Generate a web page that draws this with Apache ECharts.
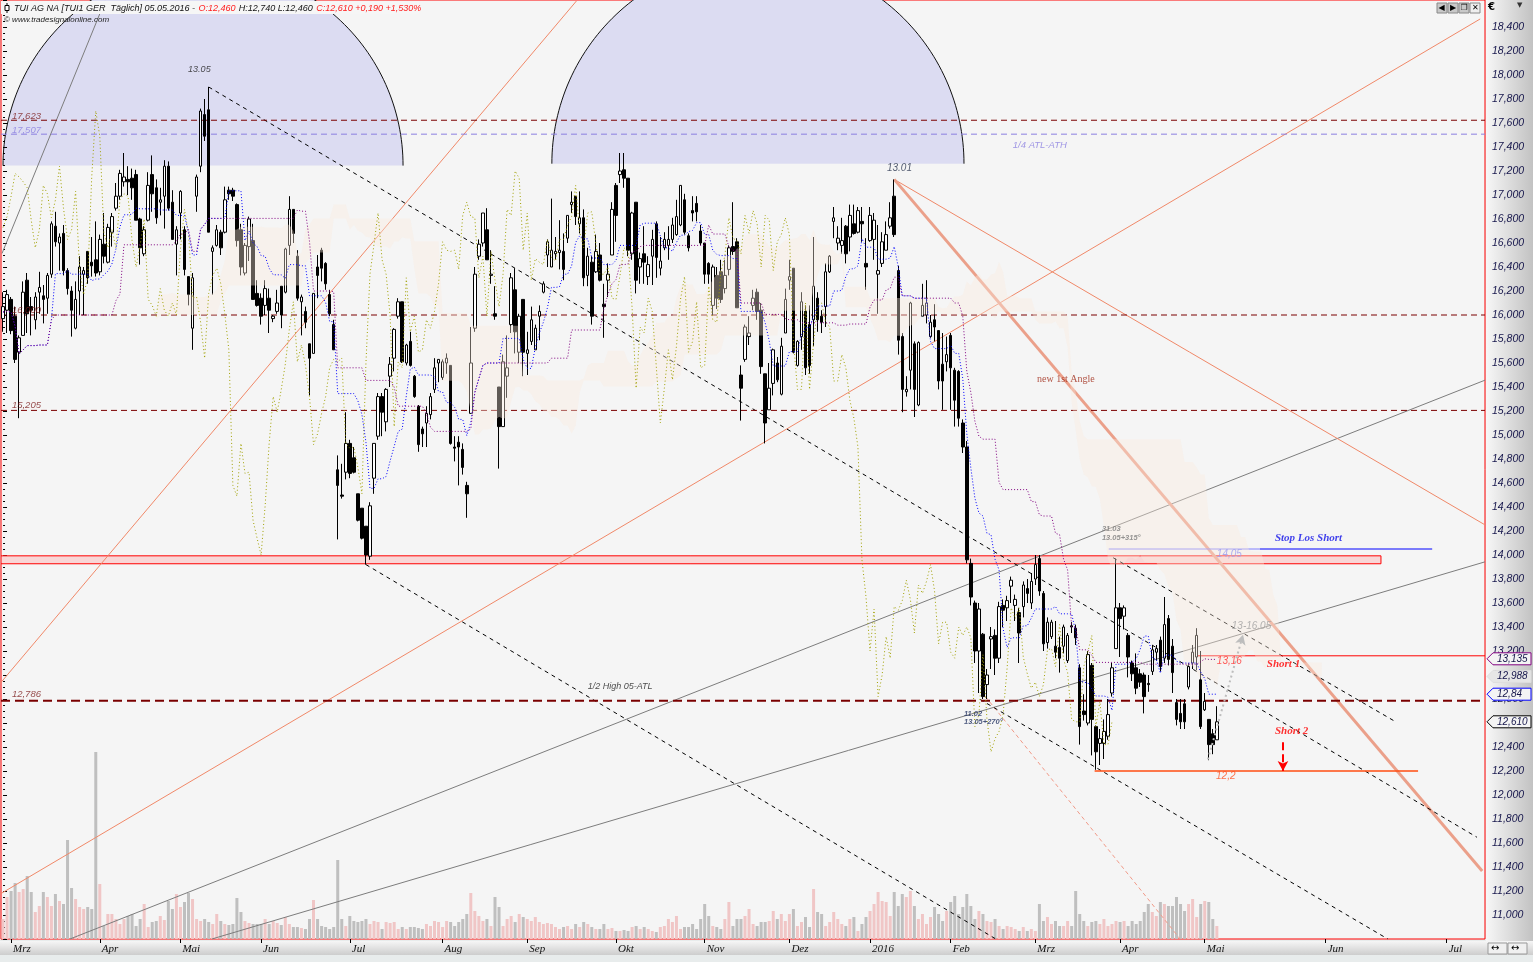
<!DOCTYPE html>
<html><head><meta charset="utf-8">
<script src="https://cdn.jsdelivr.net/npm/echarts@6/dist/echarts.min.js"></script>
<style>
html,body{margin:0;padding:0;background:#e8ecec;}
#c{width:1533px;height:962px;background:
 linear-gradient(to right,#f7f7f7,#c2c2c2) 1486px 0/47px 941px no-repeat,
 linear-gradient(to bottom,#f6f6f6,#cdcdcd) 0 941px/1533px 14px no-repeat,
 #e8ecec;}
</style></head><body><div id="c"></div>
<script>
// ---------- categories ----------
const holidays = ['2015-04-03','2015-04-06','2015-05-01','2015-12-24','2015-12-25','2015-12-31','2016-01-01','2016-03-25','2016-03-28'];
const firstDay = '2015-02-26', lastBarDay = '2016-05-05', lastAxisDay = '2016-07-10';
const monthNames = ['Jan','Feb','Mrz','Apr','Mai','Jun','Jul','Aug','Sep','Okt','Nov','Dez'];

// ---------- OHLC (EUR) ----------
const opens = [
15.97,16.04,16.13,15.99,15.69,15.83,16.29,16.07,15.96,16.19,
16.16,16.14,16.34,16.74,16.60,16.68,16.37,16.20,15.89,16.20,
16.34,16.53,16.44,16.46,16.36,16.59,16.44,16.69,16.89,16.99,
17.11,17.13,17.14,17.17,16.80,16.51,16.79,17.17,17.06,16.94,
16.99,17.24,16.94,16.59,16.85,16.71,16.32,15.89,16.99,17.24,
17.67,17.71,16.53,16.58,16.69,16.69,17.04,17.04,16.92,16.71,
16.35,16.57,16.62,16.18,16.14,16.08,16.14,15.97,16.03,16.24,
16.19,16.58,16.88,16.49,16.11,16.03,15.76,15.68,16.40,16.54,
16.43,16.17,15.92,14.71,14.50,14.69,14.93,14.81,14.51,14.39,
14.24,13.99,14.64,14.99,15.32,15.11,15.49,15.64,15.99,16.11,
15.60,15.78,15.49,15.24,15.05,15.10,15.17,15.38,15.60,15.48,
15.60,15.58,14.90,14.94,14.88,14.58,15.18,15.89,16.49,16.60,
16.71,16.33,16.01,15.40,15.07,15.49,15.92,16.21,15.69,16.13,
15.68,15.78,15.71,15.99,16.19,16.50,16.40,16.51,16.52,16.53,
16.64,16.92,16.99,16.76,16.81,16.33,16.44,16.36,16.50,16.09,
16.29,16.50,17.08,17.17,17.21,17.14,16.51,16.94,16.40,16.51,
16.32,16.49,16.76,16.39,16.56,16.58,16.63,16.67,16.75,16.96,
16.66,16.87,16.93,16.70,16.60,16.43,16.08,16.33,16.36,16.22,
16.38,16.57,16.61,15.50,15.63,15.82,16.08,16.19,16.04,15.51,
15.21,15.43,15.60,15.34,15.85,16.29,16.39,15.58,15.82,16.03,
15.92,15.96,16.14,15.99,16.07,16.36,16.78,16.60,16.58,16.74,
16.65,16.76,16.69,16.78,16.43,16.62,16.63,16.34,16.43,16.54,
16.74,16.99,16.37,15.82,15.36,15.54,15.76,15.25,15.99,16.00,
15.82,15.96,15.87,15.59,15.61,15.83,15.54,15.53,15.10,14.90,
13.93,13.60,13.20,13.34,12.92,13.30,13.33,13.14,13.58,13.56,
13.74,13.58,13.52,13.57,13.72,13.60,13.80,13.97,13.68,13.27,
13.32,13.24,13.23,13.24,13.12,13.41,13.39,13.06,12.70,12.60,
13.08,12.57,12.43,12.43,12.49,12.85,13.22,13.56,13.49,13.33,
13.10,13.06,13.01,13.00,12.93,13.03,13.19,13.29,13.14,13.47,
13.24,12.77,12.68,12.76,12.90,13.10,13.15,12.96,12.71,12.63,
12.51,12.46];
const highs = [
16.19,16.21,16.15,16.07,15.83,16.28,16.35,16.15,16.19,16.36,
16.25,16.35,16.78,16.86,16.68,16.75,16.39,16.24,16.28,16.49,
16.40,16.53,16.65,16.78,16.67,16.85,16.76,16.85,17.10,17.21,
17.35,17.24,17.22,17.21,16.81,16.74,17.19,17.33,17.13,17.06,
17.29,17.28,17.04,16.74,17.04,16.74,16.32,16.35,17.17,17.72,
17.80,17.90,16.58,16.75,16.71,17.07,17.07,17.06,16.93,16.76,
16.60,16.82,16.76,16.29,16.18,16.29,16.22,16.00,16.21,16.24,
16.56,16.99,16.88,16.54,16.17,16.07,15.76,16.18,16.50,16.56,
16.44,16.21,15.96,14.83,14.76,15.19,14.96,14.90,14.51,14.39,
14.24,14.44,14.93,15.35,15.35,15.39,15.65,15.89,16.14,16.11,
15.76,15.86,15.50,15.25,15.07,15.24,15.35,15.64,15.63,15.63,
15.68,15.58,14.99,14.99,14.93,14.61,15.90,16.40,16.63,16.85,
16.89,16.54,16.24,15.40,15.67,15.83,16.35,16.39,16.01,16.13,
15.86,16.07,15.92,16.08,16.28,16.63,16.97,16.65,16.79,16.68,
16.83,17.03,16.99,17.03,16.88,16.56,16.49,16.67,16.60,16.26,
16.43,16.94,17.10,17.35,17.35,17.14,16.86,16.94,16.52,16.74,
16.49,16.71,16.78,16.65,16.69,16.74,16.81,16.96,17.08,17.01,
16.68,16.99,16.99,16.75,16.60,16.44,16.42,16.40,16.46,16.46,
16.58,16.94,16.64,15.58,15.92,15.99,16.21,16.22,16.10,15.51,
15.60,15.72,15.65,15.81,16.22,16.46,16.39,15.79,16.19,16.08,
16.08,16.65,16.19,16.04,16.43,16.50,16.90,16.74,16.81,16.75,
16.92,16.92,16.90,16.90,16.64,16.90,16.85,16.75,16.69,16.78,
16.94,17.13,16.41,15.85,15.49,16.11,15.78,15.78,16.26,16.29,
16.00,16.09,15.87,15.85,15.82,15.85,15.56,15.54,15.13,14.95,
13.97,13.62,13.60,13.35,13.05,13.40,13.38,13.61,13.63,13.66,
13.82,13.67,13.56,13.78,13.80,13.85,14.00,14.00,13.70,13.48,
13.46,13.45,13.32,13.42,13.35,13.44,13.42,13.09,12.84,13.20,
13.10,12.58,12.55,12.63,12.80,13.10,13.97,13.60,13.58,13.35,
13.12,13.18,13.05,13.02,13.00,13.25,13.25,13.32,13.65,13.50,
13.30,12.80,12.80,12.80,13.10,13.25,13.39,13.20,12.85,12.63,
12.55,12.74];
const lows = [
15.86,15.85,15.84,15.60,15.14,15.83,15.85,15.83,15.88,16.01,
15.93,16.01,16.31,16.57,16.37,16.33,16.17,15.82,15.88,16.00,
16.00,16.26,16.32,16.32,16.33,16.43,16.43,16.57,16.87,16.96,
17.07,17.00,16.96,16.79,16.42,16.49,16.78,16.86,16.76,16.83,
16.72,16.87,16.63,16.33,16.63,16.33,16.08,15.71,16.86,17.19,
17.45,16.69,16.17,16.57,16.50,16.68,16.96,16.95,16.57,16.33,
16.33,16.45,16.13,16.07,15.92,16.00,15.85,15.94,16.01,15.89,
16.18,16.50,16.60,16.12,15.83,15.89,15.33,15.68,16.14,16.28,
16.21,15.99,15.71,14.13,14.47,14.63,14.64,14.68,14.28,14.13,
13.92,13.96,14.51,14.96,14.99,15.03,15.40,15.53,15.97,15.60,
15.58,15.57,15.31,14.86,14.90,14.90,15.13,15.35,15.44,15.46,
15.51,14.92,14.78,14.58,14.67,14.31,15.18,15.86,16.46,16.57,
16.46,16.26,15.96,14.72,15.07,15.31,15.85,15.68,15.60,15.49,
15.50,15.75,15.71,15.79,16.18,16.40,16.40,16.46,16.38,16.29,
16.60,16.85,16.75,16.68,16.24,16.24,15.92,16.35,16.28,15.81,
16.15,16.50,16.61,17.10,17.06,16.49,16.46,16.18,16.26,16.26,
16.25,16.25,16.31,16.33,16.54,16.46,16.60,16.66,16.74,16.67,
16.53,16.78,16.78,16.58,16.26,16.26,16.00,16.05,16.10,16.18,
16.33,16.50,16.06,15.12,15.61,15.75,16.04,15.96,15.51,14.93,
15.21,15.33,15.44,15.33,15.85,16.21,15.68,15.57,15.71,15.50,
15.51,15.74,15.86,15.85,15.90,16.35,16.64,16.54,16.51,16.43,
16.53,16.67,16.68,16.61,16.21,16.61,16.46,16.01,16.40,16.54,
16.72,16.65,15.67,15.19,15.32,15.38,15.15,15.24,15.99,15.93,
15.81,15.78,15.38,15.21,15.53,15.21,15.07,15.07,14.85,13.93,
13.58,13.10,12.85,12.80,12.80,13.05,13.00,13.10,13.40,13.45,
13.60,13.45,13.10,13.48,13.60,13.55,13.75,13.66,13.20,13.22,
13.30,13.14,13.02,13.18,13.10,13.35,13.25,12.42,12.62,12.58,
12.33,12.21,12.25,12.30,12.46,12.82,13.22,13.15,13.38,12.98,
12.95,12.84,12.90,12.68,12.86,13.00,13.12,13.03,13.10,13.08,
12.85,12.58,12.55,12.55,12.88,13.05,13.04,12.55,12.70,12.29,
12.34,12.46];
const closes = [
16.07,16.17,15.87,15.63,15.81,16.19,16.01,16.04,16.15,16.23,
16.13,16.33,16.76,16.61,16.65,16.37,16.22,16.04,16.13,16.40,
16.37,16.31,16.41,16.35,16.63,16.49,16.73,16.82,16.99,17.18,
17.15,17.11,17.06,16.79,16.56,16.71,17.08,17.01,16.81,16.96,
17.24,16.89,16.63,16.71,17.03,16.38,16.17,16.31,17.15,17.70,
17.49,16.69,16.56,16.71,16.56,16.96,17.01,16.99,16.62,16.40,
16.58,16.80,16.13,16.08,15.99,16.22,16.04,15.99,16.10,16.00,
16.55,16.88,16.68,16.14,16.15,15.94,15.64,16.18,16.33,16.39,
16.26,16.01,15.71,14.58,14.49,14.93,14.68,14.69,14.29,14.14,
14.00,14.41,14.93,15.32,15.19,15.38,15.59,15.88,16.11,15.61,
15.75,15.58,15.32,14.92,15.01,15.18,15.32,15.56,15.63,15.61,
15.64,14.93,14.89,14.90,14.73,14.51,15.60,16.34,16.59,16.85,
16.46,16.34,15.99,15.07,15.61,15.56,16.31,15.86,15.99,15.69,
15.71,15.96,15.89,16.03,16.26,16.61,16.54,16.53,16.54,16.38,
16.83,16.94,16.82,16.81,16.31,16.49,15.99,16.53,16.29,16.07,
16.34,16.88,16.83,17.20,17.14,16.54,16.85,16.29,16.47,16.44,
16.42,16.63,16.48,16.45,16.63,16.63,16.75,16.82,17.08,16.69,
16.56,16.85,16.86,16.60,16.34,16.34,16.40,16.14,16.13,16.33,
16.56,16.53,16.06,15.39,15.90,15.85,16.14,16.03,15.57,15.10,
15.39,15.71,15.46,15.74,16.13,16.32,15.69,15.78,16.11,15.56,
15.58,16.24,15.96,15.94,16.36,16.49,16.81,16.64,16.62,16.51,
16.83,16.68,16.87,16.76,16.40,16.83,16.79,16.37,16.61,16.67,
16.81,16.67,15.79,15.38,15.38,16.10,15.38,15.77,16.08,16.10,
15.94,15.90,15.45,15.45,15.67,15.56,15.29,15.14,14.90,13.96,
13.65,13.20,13.55,12.82,13.00,13.32,13.14,13.57,13.54,13.62,
13.79,13.63,13.35,13.75,13.68,13.78,13.92,13.70,13.26,13.44,
13.44,13.19,13.14,13.40,13.33,13.40,13.31,12.57,12.67,13.17,
12.63,12.36,12.47,12.53,12.67,13.06,13.56,13.47,13.56,13.15,
13.01,12.89,12.94,12.82,12.92,13.21,13.22,13.07,13.42,13.13,
13.02,12.63,12.61,12.61,13.07,13.19,13.33,12.57,12.78,12.42,
12.42,12.61];
// volume (relative units)
const volumes = [
20,42,48,56,47,50,63,47,27,33, 47,42,33,45,38,35,99,51,40,32,
30,32,30,187,55,13,25,25,20,15, 20,23,25,13,20,35,12,17,18,23,
19,38,30,45,32,37,46,40,20,18, 20,17,15,25,18,15,14,15,41,27,
18,16,15,15,15,20,15,18,16,14, 22,15,12,12,11,10,20,39,20,13,
12,10,12,79,20,13,23,18,17,18, 20,15,18,17,10,17,16,17,10,12,
10,12,12,11,10,15,13,18,17,12, 18,17,13,17,20,25,46,28,23,18,
20,13,42,32,13,20,23,17,25,22, 20,18,22,17,15,16,15,12,10,12,
13,10,15,12,17,15,12,10,10,15, 10,11,8,8,9,8,12,13,10,12,
10,8,7,12,13,20,17,23,10,12, 12,15,10,20,35,23,13,12,10,20,
37,13,20,20,23,30,15,13,17,17, 18,28,20,25,18,25,30,13,17,22,
12,50,27,25,13,17,27,20,15,13, 20,22,8,15,22,28,35,47,38,37,
23,47,33,45,42,48,33,20,25,15, 22,32,25,18,28,37,43,25,32,45,
33,20,28,25,18,17,20,13,10,13, 12,10,8,12,8,10,8,35,18,22,
15,18,13,13,18,13,48,25,18,13, 17,18,15,20,13,15,18,17,18,13,
18,15,18,27,35,27,23,37,35,33, 33,42,35,28,35,40,22,35,38,37,
20,13];

// ---------- drawn annotations (bar index, price) ----------
const cycleArcs = [ // centre index, centre price, radius in bars, radius in EUR
  [49.6, 17.245, 49.6, 1.663],
  [187.2, 17.261, 51.1, 1.713]
];
const zoneBox = [[-0.5, 13.993, 341.7, 13.927]];
const trendLines = [ // [i1, p1, i2, p2, style]
  [-0.74, 11.174, 366.3, 18.467, 'salmon'],
  [-0.74, 12.929, 142.2, 18.617, 'salmon'],
  [-0.25, 16.513, 25.3, 18.617, 'gray'],
  [16.6, 10.80, 367.5, 15.457, 'gray'],
  [51.8, 10.80, 367.5, 13.943, 'gray'],
  [221, 17.13, 367.5, 14.251, 'salmon'],
  [221, 17.13, 366.8, 11.366, 'salmonThick'],
  [243.6, 12.821, 291.9, 10.80, 'salmonDash'],
  [51, 17.90, 365.5, 11.648, 'blackDash'],
  [90, 13.92, 246.2, 10.80, 'blackDash'],
  [275.3, 13.977, 345.2, 12.613, 'blackDash'],
  [242.3, 12.796, 343.4, 10.80, 'blackDash']
];
const levelLines = [ // [price, fromIndex, toIndex, style]
  [17.623, -0.5, 367.5, 'darkredDash'],
  [17.507, -0.5, 367.5, 'lavDash'],
  [16.000, -0.5, 367.5, 'darkredDash'],
  [15.205, -0.5, 367.5, 'darkredDash'],
  [12.786, -0.5, 367.5, 'darkredDashThick'],
  [13.16, 295.6, 367.5, 'red'],
  [14.05, 274.2, 311.7, 'blueLight'],
  [14.05, 311.7, 354.4, 'blue'],
  [12.2, 270.7, 350.9, 'orange']
];
const arrows = [ // [i1, p1, i2, p2, style]
  [317.4, 12.44, 317.4, 12.20, 'redArrow'],
  [298.8, 12.297, 307.5, 13.336, 'grayArrow']
];
const notes = [ // [index, price, text, style]
  [45.9, 18.043, '13.05', 'dark'],
  [219.2, 17.220, '13.01', 'slate'],
  [2.2, 17.652, '17,623', 'darkred'],
  [2.2, 17.542, '17,507', 'lav'],
  [2.2, 16.040, '16,000', 'darkred'],
  [2.2, 15.249, '15,205', 'darkred'],
  [2.2, 12.838, '12,786', 'darkred'],
  [250.4, 17.411, '1/4 ATL-ATH', 'lav'],
  [256.4, 15.465, 'new 1st Angle', 'brown'],
  [145.0, 12.904, '1/2 High 05-ATL', 'dark'],
  [272.5, 14.218, '31.03', 'graySmall'],
  [272.5, 14.143, '13.05+315°', 'graySmall'],
  [238.3, 12.679, '11.02', 'navySmall'],
  [238.3, 12.605, '13.05+270°', 'navySmall'],
  [315.4, 14.143, 'Stop Los Short', 'blueBold'],
  [301.0, 14.010, '14,05', 'lightblue'],
  [304.7, 13.403, '13-16.05', 'grayLight'],
  [301.0, 13.112, '13,16', 'red'],
  [313.4, 13.087, 'Short 1', 'redBold'],
  [315.4, 12.530, 'Short 2', 'redBold'],
  [300.8, 12.156, '12,2', 'orange']
];
const priceTags = [ // [price, text, border]
  [13.135, '13,135', '#800080'],
  [12.988, '12,988', '#dddddd'],
  [12.84, '12,84', '#0000ff'],
  [12.610, '12,610', '#000000']
];

// ---------- build categories ----------
const cats = [];
(function(){
  let t = Date.parse(firstDay + 'T00:00:00Z');
  const endBars = Date.parse(lastBarDay + 'T00:00:00Z');
  const endAxis = Date.parse(lastAxisDay + 'T00:00:00Z');
  while (t <= endBars) {
    const d = new Date(t), s = d.toISOString().slice(0,10), wd = d.getUTCDay();
    if (wd !== 0 && wd !== 6 && holidays.indexOf(s) < 0) cats.push(s);
    t += 86400000;
  }
  while (t <= endAxis) { cats.push(new Date(t).toISOString().slice(0,10)); t += 86400000; }
})();
const N = cats.length;
const isMonthStart = i => i > 0 && cats[i].slice(0,7) !== cats[i-1].slice(0,7);

// ---------- Ichimoku lines from the OHLC arrays ----------
function midRange(i, n) {
  let hi = -Infinity, lo = Infinity;
  for (let j = Math.max(0, i - n + 1); j <= i; j++) { hi = Math.max(hi, highs[j]); lo = Math.min(lows[j], lo); }
  return (hi + lo) / 2;
}
const tenkan = [], kijun = [], spanA = new Array(N).fill(null), spanB = new Array(N).fill(null), chikou = new Array(N).fill(null);
for (let i = 0; i < closes.length; i++) {
  tenkan.push(+midRange(i, 9).toFixed(3));
  kijun.push(+midRange(i, 26).toFixed(3));
  if (i + 26 < N) { spanA[i+26] = (tenkan[i] + kijun[i]) / 2; spanB[i+26] = midRange(i, 52); }
  if (i - 26 >= 0) chikou[i-26] = closes[i];
}
const cloudLow = spanA.map((a,i) => a == null ? null : +Math.min(a, spanB[i]).toFixed(3));
const cloudDiff = spanA.map((a,i) => a == null ? null : +Math.abs(a - spanB[i]).toFixed(3));

// ---------- styles ----------
const lineStyles = {
  salmon: {color:'#f08868', width:1},
  salmonThick: {color:'#eba08a', width:3},
  salmonDash: {color:'#f09a88', width:1, type:[4,3]},
  gray: {color:'#7c7c7c', width:1},
  blackDash: {color:'#000000', width:1, type:[4,4]},
  darkredDash: {color:'#7a0000', width:1, type:[6,4]},
  darkredDashThick: {color:'#7a0000', width:2, type:[9,5]},
  lavDash: {color:'#8a7ee0', width:1, type:[6,4]},
  red: {color:'#ff0000', width:1},
  blue: {color:'#0000ff', width:1},
  blueLight: {color:'#8080ff', width:1},
  orange: {color:'#ff4c10', width:1.5},
  redArrow: {color:'#ff0000', width:2},
  grayArrow: {color:'#bdbdbd', width:2, type:[2,3]}
};
const noteStyles = {
  dark: {color:'#222', fontSize:9, fontStyle:'italic', fontFamily:'Liberation Sans'},
  slate: {color:'#2a3650', fontSize:10, fontStyle:'italic', fontFamily:'Liberation Sans'},
  darkred: {color:'#7a1a1a', fontSize:9.5, fontStyle:'italic', fontFamily:'Liberation Sans'},
  lav: {color:'#8a7ee0', fontSize:9.5, fontStyle:'italic', fontFamily:'Liberation Sans'},
  brown: {color:'#a02a18', fontSize:10, fontFamily:'Liberation Serif'},
  graySmall: {color:'#7a7a7a', fontSize:7.5, fontStyle:'italic', fontWeight:'bold', fontFamily:'Liberation Sans'},
  navySmall: {color:'#1e2e5e', fontSize:7.5, fontStyle:'italic', fontWeight:'bold', fontFamily:'Liberation Sans'},
  blueBold: {color:'#1010e8', fontSize:11, fontStyle:'italic', fontWeight:'bold', fontFamily:'Liberation Serif'},
  lightblue: {color:'#9a9af0', fontSize:10, fontStyle:'italic', fontFamily:'Liberation Sans'},
  grayLight: {color:'#a0a0a0', fontSize:10, fontStyle:'italic', fontFamily:'Liberation Sans'},
  red: {color:'#ff3030', fontSize:10, fontStyle:'italic', fontFamily:'Liberation Sans'},
  redBold: {color:'#ff0000', fontSize:11, fontStyle:'italic', fontWeight:'bold', fontFamily:'Liberation Serif'},
  orange: {color:'#ff5020', fontSize:10, fontStyle:'italic', fontFamily:'Liberation Sans'}
};
const fmt3 = v => v.toFixed(3).replace('.', ',');

// ---------- series ----------
const series = [];
series.push({
  type:'custom', name:'arcs', xAxisIndex:1, yAxisIndex:0, clip:true, silent:true, z:0,
  encode:{x:0, y:1},
  data: cycleArcs,
  renderItem: function(params, api){
    const cx = api.value(0), cy = api.value(1), rx = api.value(2), ry = api.value(3);
    const pts = [];
    for (let t = 0; t <= 180; t += 1.5) { const a = t*Math.PI/180; pts.push(api.coord([cx + rx*Math.cos(a), cy + ry*Math.sin(a)])); }
    return {type:'group', children:[
      {type:'polygon', shape:{points:pts}, style:{fill:'#dcdcf2', stroke:null}},
      {type:'polyline', shape:{points:pts}, style:{fill:null, stroke:'#111', lineWidth:1}}
    ]};
  }
});
series.push({
  type:'custom', name:'zone', xAxisIndex:1, yAxisIndex:0, clip:true, silent:true, z:1,
  encode:{x:[0,2], y:[1,3]},
  data: zoneBox,
  renderItem: function(params, api){
    const a = api.coord([api.value(0), api.value(1)]), b = api.coord([api.value(2), api.value(3)]);
    return {type:'rect', shape:{x:a[0], y:a[1], width:b[0]-a[0], height:b[1]-a[1]}, style:{fill:'#f8d6d6', stroke:'#ff0000', lineWidth:1}};
  }
});
series.push({
  type:'bar', name:'Volumen', xAxisIndex:0, yAxisIndex:1, barWidth:3, silent:true, z:1,
  data: volumes.map((v,i) => ({value:v, itemStyle:{color: closes[i] >= opens[i] ? '#f0c6c6' : '#bfbfbf'}}))
});
trendLines.forEach(l => series.push({
  type:'line', xAxisIndex:1, yAxisIndex:0, symbol:'none', silent:true, clip:true, z:2,
  data:[[l[0], l[1]], [l[2], l[3]]], lineStyle: lineStyles[l[4]]
}));
levelLines.forEach(l => series.push({
  type:'line', xAxisIndex:1, yAxisIndex:0, symbol:'none', silent:true, clip:true, z:2,
  data:[[l[1], l[0]], [l[2], l[0]]], lineStyle: lineStyles[l[3]]
}));
series.push({
  type:'candlestick', name:'TUI', xAxisIndex:0, yAxisIndex:0, barWidth:3, z:3,
  data: opens.map((o,i) => [o, closes[i], lows[i], highs[i]]),
  itemStyle:{color:'#ffffff', color0:'#000000', borderColor:'#000000', borderColor0:'#000000', borderWidth:1}
});
series.push({type:'line', name:'cloudLow', xAxisIndex:0, yAxisIndex:0, stack:'kumo', data:cloudLow, symbol:'none', silent:true, lineStyle:{opacity:0}, z:4});
series.push({type:'line', name:'cloud', xAxisIndex:0, yAxisIndex:0, stack:'kumo', data:cloudDiff, symbol:'none', silent:true, lineStyle:{opacity:0}, areaStyle:{color:'rgba(250,234,222,0.55)'}, z:4});
series.push({type:'line', name:'Chikou', xAxisIndex:0, yAxisIndex:0, data:chikou, symbol:'none', silent:true, lineStyle:{color:'#a0a000', width:1, type:[1,2.5]}, z:5});
series.push({type:'line', name:'Tenkan', xAxisIndex:0, yAxisIndex:0, data:tenkan, symbol:'none', silent:true, lineStyle:{color:'#0000ff', width:1, type:[1,2]}, z:5});
series.push({type:'line', name:'Kijun', xAxisIndex:0, yAxisIndex:0, data:kijun, symbol:'none', silent:true, lineStyle:{color:'#800080', width:1, type:[1,2]}, z:5});
series.push({
  type:'line', name:'marks', xAxisIndex:1, yAxisIndex:0, data:[], symbol:'none', silent:true, clip:false, z:6,
  markLine:{
    silent:true, animation:false,
    data: arrows.map(a => [
      {coord:[a[0], a[1]], symbol:'none', lineStyle: lineStyles[a[4]]},
      {coord:[a[2], a[3]], symbol:'arrow', symbolSize:[8,10]}
    ]),
    label:{show:false}
  }
});
// price tags on the right axis, placed at the right edge of the plot at their price
series.push({
  type:'custom', name:'tags', xAxisIndex:1, yAxisIndex:0, clip:false, silent:true, z:20,
  encode:{x:0, y:1},
  data: priceTags.map(t => [N - 0.5, t[0]]),
  renderItem: function(params, api){
    const p = api.coord([api.value(0), api.value(1)]);
    const tag = priceTags[params.dataIndex];
    return {type:'group', x:p[0] + 2, y:p[1], children:[
      {type:'polygon', shape:{points:[[0,0],[6,-6],[44,-6],[44,6],[6,6]]},
       style:{fill: tag[2] === '#dddddd' ? '#e6e6e6' : '#f4f4f4', stroke:tag[2], lineWidth:1}},
      {type:'text', x:10, y:0, style:{text:tag[1], fill:'#14144a', font:'italic 10px "Liberation Sans"', verticalAlign:'middle', align:'left'}}
    ]};
  }
});
series.push({
  type:'scatter', name:'notes', xAxisIndex:1, yAxisIndex:0, symbolSize:0, silent:true, z:7,
  data: notes.map(n => ({value:[n[0], n[1]], label:Object.assign({show:true, position:'right', distance:0, formatter:n[2]}, noteStyles[n[3]])}))
});

const option = {
  animation:false,
  backgroundColor:'transparent',
  grid:{left:1, top:0, width:1484, height:939, show:true, backgroundColor:'#f5f5f5', borderColor:'#ff0000', borderWidth:1},
  xAxis:[
    {type:'category', data:cats, boundaryGap:true, gridIndex:0,
     axisLine:{show:false},
     axisTick:{show:true, alignWithLabel:true, length:4, interval:(i)=>isMonthStart(i), lineStyle:{color:'#000'}},
     axisLabel:{interval:(i)=>isMonthStart(i), align:'left', padding:[0,0,0,2], margin:5,
       formatter:(v)=>{const m=+v.slice(5,7); return m===1 ? v.slice(0,4) : monthNames[m-1];},
       fontFamily:'Liberation Serif', fontStyle:'italic', fontSize:11, color:'#111'},
     splitLine:{show:false}},
    {type:'value', min:-0.5, max:N-0.5, gridIndex:0, show:false}
  ],
  yAxis:[
    {type:'value', position:'right', min:10.8, max:18.625, interval:0.2, gridIndex:0,
     axisLine:{show:false}, splitLine:{show:false},
     axisTick:{show:true, length:4, lineStyle:{color:'#000'}},
     minorTick:{show:true, splitNumber:4, length:2, lineStyle:{color:'#000'}},
     axisLabel:{showMinLabel:false, showMaxLabel:false, margin:7, color:'#14144a',
       formatter:(v)=> (v < 10.9 || v > 18.5) ? '' : fmt3(v),
       fontFamily:'Liberation Sans', fontStyle:'italic', fontSize:10.5}},
    {type:'value', min:0, max:939, gridIndex:0, show:false}
  ],
  series: series,
  graphic:[
    {type:'rect', shape:{x:1, y:1, width:418, height:13}, style:{fill:'#f6f6f6'}, z:100},
    {type:'line', shape:{x1:7, y1:3, x2:7, y2:13}, style:{stroke:'#000', lineWidth:1}, z:101},
    {type:'rect', shape:{x:5, y:5.5, width:4, height:5}, style:{fill:'#fff', stroke:'#000', lineWidth:1}, z:102},
    {type:'text', x:14, y:2.5, z:101, style:{
      text:'{k|TUI AG NA [TUI1 GER  Täglich] 05.05.2016 -} {r|O:12,460} {k|H:12,740 L:12,460} {r|C:12,610 +0,190 +1,530%}',
      rich:{k:{fill:'#111', font:'italic 9px "Liberation Sans"'}, r:{fill:'#ff2020', font:'italic 9px "Liberation Sans"'}}}},
    {type:'text', x:4, y:16, z:101, style:{text:'© www.tradesignalonline.com', fill:'#222', font:'italic 8px "Liberation Sans"'}},
    {type:'group', x:1437, y:3, z:101, children:[
      {type:'rect', shape:{x:0,y:0,width:10,height:10}, style:{fill:'#c8c8c8', stroke:'#888'}},
      {type:'text', x:1.5, y:1, style:{text:'◀', fill:'#000', font:'8px "DejaVu Sans"'}},
      {type:'rect', shape:{x:11,y:0,width:10,height:10}, style:{fill:'#c8c8c8', stroke:'#888'}},
      {type:'text', x:13, y:1, style:{text:'▶', fill:'#000', font:'8px "DejaVu Sans"'}},
      {type:'rect', shape:{x:22,y:0,width:10,height:10}, style:{fill:'#c8c8c8', stroke:'#888'}},
      {type:'text', x:23.5, y:1, style:{text:'❐', fill:'#000', font:'8px "DejaVu Sans"'}},
      {type:'rect', shape:{x:33,y:0,width:10,height:10}, style:{fill:'#eeeeee', stroke:'#888'}},
      {type:'text', x:35, y:1, style:{text:'✕', fill:'#000', font:'8px "DejaVu Sans"'}}
    ]},
    {type:'text', x:1488, y:2, z:101, style:{text:'€', fill:'#000', font:'bold 10px "DejaVu Sans"'}},
    {type:'text', x:1517, y:2, z:101, style:{text:'▼', fill:'#333', font:'7px "DejaVu Sans"'}},
    {type:'group', x:1488, y:943, z:101, children:[
      {type:'rect', shape:{x:0,y:0,width:19,height:11}, style:{fill:'#f0f0f0', stroke:'#999'}},
      {type:'text', x:3, y:0, style:{text:'↔', fill:'#000', font:'10px "DejaVu Sans"'}},
      {type:'rect', shape:{x:20,y:0,width:19,height:11}, style:{fill:'#f0f0f0', stroke:'#999'}},
      {type:'text', x:23, y:0, style:{text:'↔', fill:'#000', font:'10px "DejaVu Sans"'}}
    ]}
  ]
};
const chart = echarts.init(document.getElementById('c'), null, {renderer:'canvas'});
chart.setOption(option);
</script></body></html>
